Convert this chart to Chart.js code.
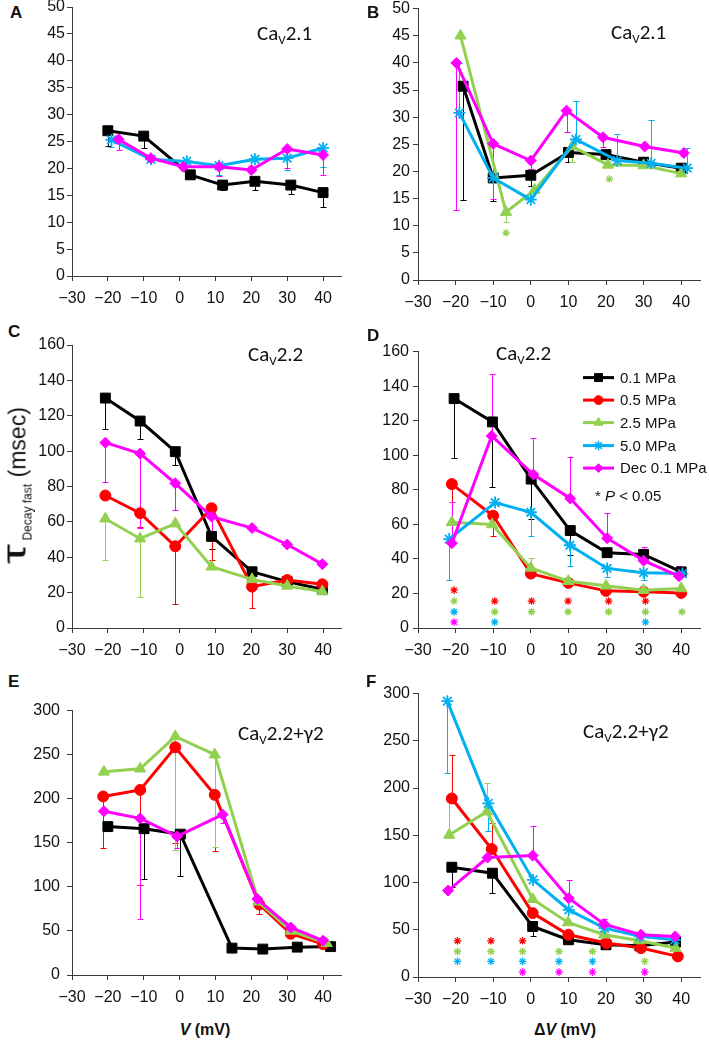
<!DOCTYPE html>
<html>
<head>
<meta charset="utf-8">
<script src="https://cdn.jsdelivr.net/npm/chart.js@4"></script>
<style>
  html, body { margin: 0; padding: 0; background: #fff; }
  body { position: relative; width: 709px; height: 1040px; overflow: hidden; }
  canvas { position: absolute; }
  .lbl { position: absolute; font-family: "Liberation Sans", Arial, sans-serif; font-weight: bold; font-size: 17px; line-height: 1; color: #111; }
  .title { position: absolute; font-family: Carlito, Lato, sans-serif; font-size: 21px; line-height: 1; color: #111; white-space: nowrap; }
  .title sub { font-size: 0.62em; vertical-align: -0.28em; line-height: 0; }
  .xt { position: absolute; font-family: "Liberation Sans", Arial, sans-serif; font-weight: bold; font-size: 16px; line-height: 1; color: #111; transform: translateX(-50%); white-space: nowrap; }
  .yt { position: absolute; left: 14px; top: 487px; font-family: "Liberation Sans", Arial, sans-serif; color: #111; white-space: nowrap; transform: translate(-50%, -50%) rotate(-90deg); }
  .tau { display: inline-block; font-size: 34px; transform: scaleX(1.5); margin: 0 7px 0 6px; }
</style>
</head>
<body>

<canvas id="chA"></canvas>
<canvas id="chB"></canvas>
<canvas id="chC"></canvas>
<canvas id="chD"></canvas>
<canvas id="chE"></canvas>
<canvas id="chF"></canvas>

<div class="lbl" style="left:10px;top:4px">A</div>
<div class="lbl" style="left:367px;top:4px">B</div>
<div class="lbl" style="left:8px;top:323px">C</div>
<div class="lbl" style="left:367px;top:327px">D</div>
<div class="lbl" style="left:8px;top:673px">E</div>
<div class="lbl" style="left:366px;top:673px">F</div>

<div class="title" style="left:257px;top:23px">Ca<sub>V</sub>2.1</div>
<div class="title" style="left:611px;top:22px">Ca<sub>V</sub>2.1</div>
<div class="title" style="left:248px;top:344px">Ca<sub>V</sub>2.2</div>
<div class="title" style="left:496px;top:343px">Ca<sub>V</sub>2.2</div>
<div class="title" style="left:238px;top:723px">Ca<sub>V</sub>2.2+γ2</div>
<div class="title" style="left:583px;top:721px">Ca<sub>V</sub>2.2+γ2</div>

<div class="yt"><span class="tau">τ</span><span style="font-size:12px;position:relative;top:6px">Decay fast</span><span style="font-size:23px"> (msec)</span></div>

<div class="xt" style="left:205px;top:1022px"><i>V</i> (mV)</div>
<div class="xt" style="left:565px;top:1022px">Δ<i>V</i> (mV)</div>

<script>
// ---- axis ticks ----
const xTickValues = [-30, -20, -10, 0, 10, 20, 30, 40];

// ---- panel A: CaV2.1, V ----
const aBlackX = [-20, -10, 3, 12, 21, 31, 40];
const aBlackY = [27, 26, 18.8, 16.9, 17.6, 16.9, 15.5];
const aBlackErr = [24.1, 23.8, null, 16, 16, 15.2, 12.8];
const aBlueX = [-19, -8, 2, 11, 21, 30, 40];
const aBlueY = [25.3, 21.7, 21.3, 20.5, 21.7, 21.9, 23.8];
const aBlueErr = [24, null, 19.5, 18.8, null, 19.7, 20.3];
const aMagentaX = [-17, -8, 1, 11, 20, 30, 40];
const aMagentaY = [25.4, 21.9, 20.3, 20.3, 19.7, 23.6, 22.5];
const aMagentaErr = [23.4, null, null, 18.5, null, 20, 18.7];

// ---- panel B: CaV2.1, dV ----
const bBlackX = [-18, -10, 0, 10, 20, 30, 40];
const bBlackY = [35.7, 18.8, 19.3, 23.5, 23.1, 21.7, 20.6];
const bBlackErr = [14.8, 14.5, 17.3, 21.7, null, null, null];
const bGreenX = [-18.7, -6.6, 1, 11, 20.5, 30, 40];
const bGreenY = [45, 12.5, 16.6, 24.6, 21.2, 21.1, 19.6];
const bGreenErr = [null, 10.6, null, 21.8, null, null, null];
const bBlueX = [-19, -10, 0, 12, 23, 32, 41.6];
const bBlueY = [30.8, 18.8, 14.8, 25.9, 22, 21.5, 20.6];
const bBlueErr = [40, null, null, 32.9, 26.9, 29.4, 24.4];
const bMagentaX = [-19.8, -10, 0, 9.5, 19.2, 30.3, 40.7];
const bMagentaY = [40, 25.1, 22, 31.2, 26.3, 24.6, 23.4];
const bMagentaErr = [12.9, 15, 20.5, 27.2, 24.5, null, null];
const bStarGreenX = [-6.6, 20.9];
const bStarGreenY = [8.7, 18.6];

// ---- panel C: CaV2.2, V ----
const cX = [-20.7, -11, -1.2, 8.9, 20.2, 30, 39.8];
const cBlackY = [130, 117, 99.7, 51.8, 31.8, 26.2, 21.9];
const cBlackErr = [112.3, 107, 92.3, 44.9, null, null, null];
const cRedY = [74.9, 64.9, 46.2, 67.7, 23.4, 27.1, 24.7];
const cRedErr = [null, 57, 13.7, 38.4, 11.2, null, null];
const cGreenY = [61.8, 50.5, 59, 34.6, 27.5, 23.8, 20.6];
const cGreenErr = [38.4, 17.4, null, null, null, null, null];
const cMagentaY = [104.8, 98.6, 81.8, 63, 56.5, 47.2, 36.1];
const cMagentaErr = [82.7, 56.5, 66.8, 55, null, null, null];

// ---- panel D: CaV2.2, dV ----
const dBlackX = [-20.4, -10.2, 0.1, 10.5, 20.3, 30, 40];
const dBlackY = [132.8, 119.3, 86.2, 56.4, 43.6, 42.6, 32.5];
const dBlackErr = [98.6, 81.8, 63, 42, null, null, null];
const dRedX = [-21, -10, 0, 10, 20, 30, 40];
const dRedY = [83.3, 65, 31.5, 26.1, 21.5, 21, 20.3];
const dRedErr = [62, 53, null, null, null, null, null];
const dGreenX = [-21, -10.3, 0, 10, 20, 30, 40];
const dGreenY = [61.2, 59.9, 34.8, 27.1, 24.4, 21.9, 22.9];
const dGreenErr = [null, null, 40.5, null, null, null, null];
const dBlueX = [-21.7, -9.5, 0, 10.4, 20.3, 30, 40.3];
const dBlueY = [51.5, 72.6, 67, 47.9, 34.5, 32, 31.5];
const dBlueErr = [28, null, 53, 36, 29.5, 28, null];
const dMagentaX = [-21, -10.4, 0.7, 10.5, 20.3, 30, 39.4];
const dMagentaY = [49.1, 111.2, 88.8, 75, 52, 39, 30];
const dMagentaErr = [73, 147, 110, 99, 66.5, 46.6, 36];
const dStarRedX = [-20.4, -9.6, 0.2, 9.9, 20.7, 30.5];
const dStarRedY = [21.9, 15.6, 15.6, 15.6, 15.6, 15.6];
const dStarGreenX = [-20.4, -9.6, 0.2, 9.9, 20.7, 30.5, 40.2];
const dStarGreenY = [15.6, 9.4, 9.4, 9.4, 9.4, 9.4, 9.4];
const dStarBlueX = [-20.4, -9.6, 30.5];
const dStarBlueY = [9.4, 3.4, 3.4];
const dStarMagentaX = [-20.4];
const dStarMagentaY = [3.4];

// ---- panel E: CaV2.2+g2, V ----
const eBlackX = [-20, -9.9, 0.2, 14.6, 23.2, 32.8, 42.1];
const eBlackY = [168.4, 166, 159.8, 30.5, 29.4, 31.6, 32.2];
const eBlackErr = [null, 108.5, 112.6, null, null, null, null];
const eRedX = [-21.3, -11, -1.2, 9.8, 22.2, 31, 40];
const eRedY = [202.6, 210, 258.4, 204.4, 80, 46.8, 35];
const eRedErr = [144.2, 102.3, 150, 141, 68.8, null, null];
const eGreenX = [-21.1, -11, -1.2, 9.8, 22, 31, 41];
const eGreenY = [230.5, 234, 270.6, 250, 83, 50, 36];
const eGreenErr = [null, null, 141.3, 145, null, null, null];
const eMagentaX = [-21.1, -11, -0.7, 12, 21.7, 31, 40];
const eMagentaY = [185.9, 177.7, 157.2, 182, 86.2, 53.9, 39];
const eMagentaErr = [null, 63.2, 143.9, 172, null, 45, null];

// ---- panel F: CaV2.2+g2, dV ----
const fBlackX = [-21, -10.2, 0.5, 10, 20, 29, 38.5];
const fBlackY = [116.2, 109.9, 53.5, 39.4, 34.1, 33, 37];
const fBlackErr = [95.7, 88.7, 42.9, null, null, null, null];
const fRedX = [-21, -10.4, 0.5, 10, 20.1, 29.3, 39.1];
const fRedY = [189, 135.5, 67.6, 44.7, 35.9, 30.6, 21.8];
const fRedErr = [234.8, 163.3, null, null, null, null, null];
const fGreenX = [-21.7, -11.7, 0.5, 9.9, 19.5, 28.7, 38.5];
const fGreenY = [150.3, 175, 82.4, 57.7, 44.7, 38.7, 30.6];
const fGreenErr = [185, 205, null, null, null, null, null];
const fBlueX = [-22.2, -11.3, 0.6, 10.1, 19.6, 29, 38.3];
const fBlueY = [292, 183.8, 102.8, 71, 51.7, 43, 39.4];
const fBlueErr = [215.5, 154.9, null, null, null, null, null];
const fMagentaX = [-22, -11.5, 0.5, 10.1, 19.5, 29.3, 38.4];
const fMagentaY = [91.5, 126.4, 128.5, 83.4, 56, 44.7, 42.9];
const fMagentaErr = [null, null, 160.2, 102.8, 61, null, null];
const fStarRedX = [-19.5, -10.6, -2.2];
const fStarRedY = [38.3, 38.3, 38.3];
const fStarGreenX = [-19.5, -10.6, -2.2, 7.5, 16.4, 30.3];
const fStarGreenY = [27, 27, 27, 27, 27, 16.5];
const fStarBlueX = [-19.5, -10.6, -2.2, 7.5, 16.4];
const fStarBlueY = [16.5, 16.5, 16.5, 16.5, 16.5];
const fStarMagentaX = [-2.2, 7.5, 16.4, 30.3];
const fStarMagentaY = [5.2, 5.2, 5.2, 5.2];

const legendNames = ["0.1 MPa", "0.5 MPa", "2.5 MPa", "5.0 MPa", "Dec 0.1 MPa"];

// series look (Excel-ish colours)
const seriesStyle = {
  black:   { color: "#000000", style: "rect",     r: 7,   order: 5, name: legendNames[0] },
  red:     { color: "#ff0000", style: "circle",   r: 5.5, order: 4, name: legendNames[1] },
  green:   { color: "#92d050", style: "triangle", r: 6.5, order: 3, name: legendNames[2] },
  blue:    { color: "#00b0f0", style: "star",     r: 6,   order: 2, name: legendNames[3] },
  magenta: { color: "#ff00ff", style: "rectRot",  r: 5.5, order: 1, name: legendNames[4] },
};

function series(key, xs, ys, errs) {
  const s = seriesStyle[key];
  return {
    label: s.name,
    data: xs.map(function (x, i) { return { x: x, y: ys[i] }; }),
    errTip: errs,
    borderColor: s.color,
    backgroundColor: s.color,
    pointBackgroundColor: s.color,
    pointBorderColor: s.color,
    borderWidth: 3,
    pointStyle: s.style,
    pointRadius: s.r,
    pointBorderWidth: s.style === "star" ? 1.8 : 1,
    order: s.order,
    tension: 0,
  };
}

function stars(key, xs, ys) {
  const s = seriesStyle[key];
  return {
    label: "*",
    data: xs.map(function (x, i) { return { x: x, y: ys[i] }; }),
    showLine: false,
    pointStyle: "star",
    pointRadius: 3.8,
    pointBorderWidth: 1.3,
    pointBorderColor: s.color,
    pointBackgroundColor: s.color,
    borderColor: s.color,
    order: 0,
  };
}

// one-sided error bars with small caps, drawn behind the lines
const errorBars = {
  id: "errorBars",
  beforeDatasetsDraw: function (chart) {
    const ctx = chart.ctx;
    const xs = chart.scales.x, ys = chart.scales.y;
    chart.data.datasets.forEach(function (ds) {
      if (!ds.errTip) return;
      ctx.save();
      ctx.strokeStyle = ds.borderColor;
      ctx.lineWidth = 1;
      ds.data.forEach(function (p, i) {
        const tip = ds.errTip[i];
        if (tip === null || tip === undefined) return;
        const px = Math.round(xs.getPixelForValue(p.x)) + 0.5;
        const py = ys.getPixelForValue(p.y);
        const pt = Math.round(ys.getPixelForValue(tip)) + 0.5;
        ctx.beginPath();
        ctx.moveTo(px, py);
        ctx.lineTo(px, pt);
        ctx.moveTo(px - 3, pt);
        ctx.lineTo(px + 3, pt);
        ctx.stroke();
      });
      ctx.restore();
    });
  },
};

// legend of panel D: line + marker + text
const lineLegend = {
  id: "lineLegend",
  afterDraw: function (chart, args, opts) {
    if (!opts.show) return;
    const ctx = chart.ctx;
    const a = chart.chartArea;
    const rows = [26, 48.5, 71, 94, 116.5];
    const x0 = a.left + 165, x1 = a.left + 196, tx = a.left + 202;
    const font = "15px 'Liberation Sans', Arial, sans-serif";
    ctx.save();
    ["black", "red", "green", "blue", "magenta"].forEach(function (key, i) {
      const s = seriesStyle[key];
      const y = a.top + rows[i];
      ctx.strokeStyle = s.color;
      ctx.fillStyle = s.color;
      ctx.lineWidth = 3;
      ctx.beginPath();
      ctx.moveTo(x0, y);
      ctx.lineTo(x1, y);
      ctx.stroke();
      ctx.lineWidth = s.style === "star" ? 1.6 : 1;
      Chart.helpers.drawPoint(ctx, { pointStyle: s.style, radius: s.r * 0.8, rotation: 0, borderWidth: ctx.lineWidth }, (x0 + x1) / 2, y);
      ctx.fillStyle = "#111";
      ctx.font = font;
      ctx.textBaseline = "middle";
      ctx.fillText(s.name, tx, y + 1);
    });
    // significance note
    let x = a.left + 177;
    const y = a.top + 145;
    ctx.fillStyle = "#111";
    ctx.font = font;
    ctx.fillText("* ", x, y);
    x += ctx.measureText("* ").width;
    ctx.font = "italic " + font;
    ctx.fillText("P", x, y);
    x += ctx.measureText("P").width;
    ctx.font = font;
    ctx.fillText(" < 0.05", x, y);
    ctx.restore();
  },
};

const Y_AXIS_W = 48, PAD_TOP = 12, PAD_RIGHT = 6, X_AXIS_H = 32;

function makePanel(id, geo, yMax, yStep, yPad, datasets, showLegend) {
  const canvas = document.getElementById(id);
  const w = Y_AXIS_W + (geo.right - geo.left) + PAD_RIGHT;
  const h = PAD_TOP + (geo.bottom - geo.top) + X_AXIS_H;
  canvas.width = w;
  canvas.height = h;
  canvas.style.left = (geo.left - Y_AXIS_W) + "px";
  canvas.style.top = (geo.top - PAD_TOP) + "px";

  const tickFont = { family: "'Liberation Sans', Arial, sans-serif", size: 16 };
  const axisColor = "#3a3a3a";

  new Chart(canvas.getContext("2d"), {
    type: "line",
    data: { datasets: datasets },
    options: {
      responsive: false,
      animation: false,
      events: [],
      devicePixelRatio: 1,
      layout: { padding: { top: PAD_TOP, right: PAD_RIGHT, left: 0, bottom: 0 } },
      plugins: {
        legend: { display: false },
        tooltip: { enabled: false },
        lineLegend: { show: !!showLegend },
      },
      scales: {
        x: {
          type: "linear",
          min: -30,
          max: 45,
          afterBuildTicks: function (scale) {
            scale.ticks = xTickValues.map(function (v) { return { value: v }; });
          },
          afterFit: function (scale) { scale.height = X_AXIS_H; },
          grid: { drawOnChartArea: false, drawTicks: true, tickLength: 5, color: axisColor },
          border: { display: true, color: axisColor, width: 1 },
          ticks: {
            color: "#111",
            font: tickFont,
            padding: 8,
            maxRotation: 0,
            autoSkip: false,
            callback: function (v) { return v < 0 ? "\u2212" + Math.abs(v) : String(v); },
          },
        },
        y: {
          min: 0,
          max: yMax,
          afterFit: function (scale) { scale.width = Y_AXIS_W; },
          grid: { drawOnChartArea: false, drawTicks: true, tickLength: 5, color: axisColor },
          border: { display: true, color: axisColor, width: 1 },
          ticks: { stepSize: yStep, color: "#111", font: tickFont, padding: yPad },
        },
      },
    },
    plugins: [errorBars, lineLegend],
  });
}

makePanel("chA", { left: 72, right: 343, top: 7, bottom: 276 }, 50, 5, 2, [
  series("black", aBlackX, aBlackY, aBlackErr),
  series("blue", aBlueX, aBlueY, aBlueErr),
  series("magenta", aMagentaX, aMagentaY, aMagentaErr),
]);

makePanel("chB", { left: 418, right: 702, top: 8, bottom: 280 }, 50, 5, 3, [
  series("black", bBlackX, bBlackY, bBlackErr),
  series("green", bGreenX, bGreenY, bGreenErr),
  series("blue", bBlueX, bBlueY, bBlueErr),
  series("magenta", bMagentaX, bMagentaY, bMagentaErr),
  stars("green", bStarGreenX, bStarGreenY),
]);

makePanel("chC", { left: 72, right: 343, top: 345, bottom: 628 }, 160, 20, 2, [
  series("black", cX, cBlackY, cBlackErr),
  series("red", cX, cRedY, cRedErr),
  series("green", cX, cGreenY, cGreenErr),
  series("magenta", cX, cMagentaY, cMagentaErr),
]);

makePanel("chD", { left: 418, right: 702, top: 350, bottom: 628 }, 160, 20, 4, [
  series("black", dBlackX, dBlackY, dBlackErr),
  series("red", dRedX, dRedY, dRedErr),
  series("green", dGreenX, dGreenY, dGreenErr),
  series("blue", dBlueX, dBlueY, dBlueErr),
  series("magenta", dMagentaX, dMagentaY, dMagentaErr),
  stars("red", dStarRedX, dStarRedY),
  stars("green", dStarGreenX, dStarGreenY),
  stars("blue", dStarBlueX, dStarBlueY),
  stars("magenta", dStarMagentaX, dStarMagentaY),
], true);

makePanel("chE", { left: 72, right: 343, top: 706, bottom: 975 }, 300, 50, 7, [
  series("black", eBlackX, eBlackY, eBlackErr),
  series("red", eRedX, eRedY, eRedErr),
  series("green", eGreenX, eGreenY, eGreenErr),
  series("magenta", eMagentaX, eMagentaY, eMagentaErr),
]);

makePanel("chF", { left: 418, right: 702, top: 693, bottom: 977 }, 300, 50, 3, [
  series("black", fBlackX, fBlackY, fBlackErr),
  series("red", fRedX, fRedY, fRedErr),
  series("green", fGreenX, fGreenY, fGreenErr),
  series("blue", fBlueX, fBlueY, fBlueErr),
  series("magenta", fMagentaX, fMagentaY, fMagentaErr),
  stars("red", fStarRedX, fStarRedY),
  stars("green", fStarGreenX, fStarGreenY),
  stars("blue", fStarBlueX, fStarBlueY),
  stars("magenta", fStarMagentaX, fStarMagentaY),
]);
</script>
</body>
</html>
